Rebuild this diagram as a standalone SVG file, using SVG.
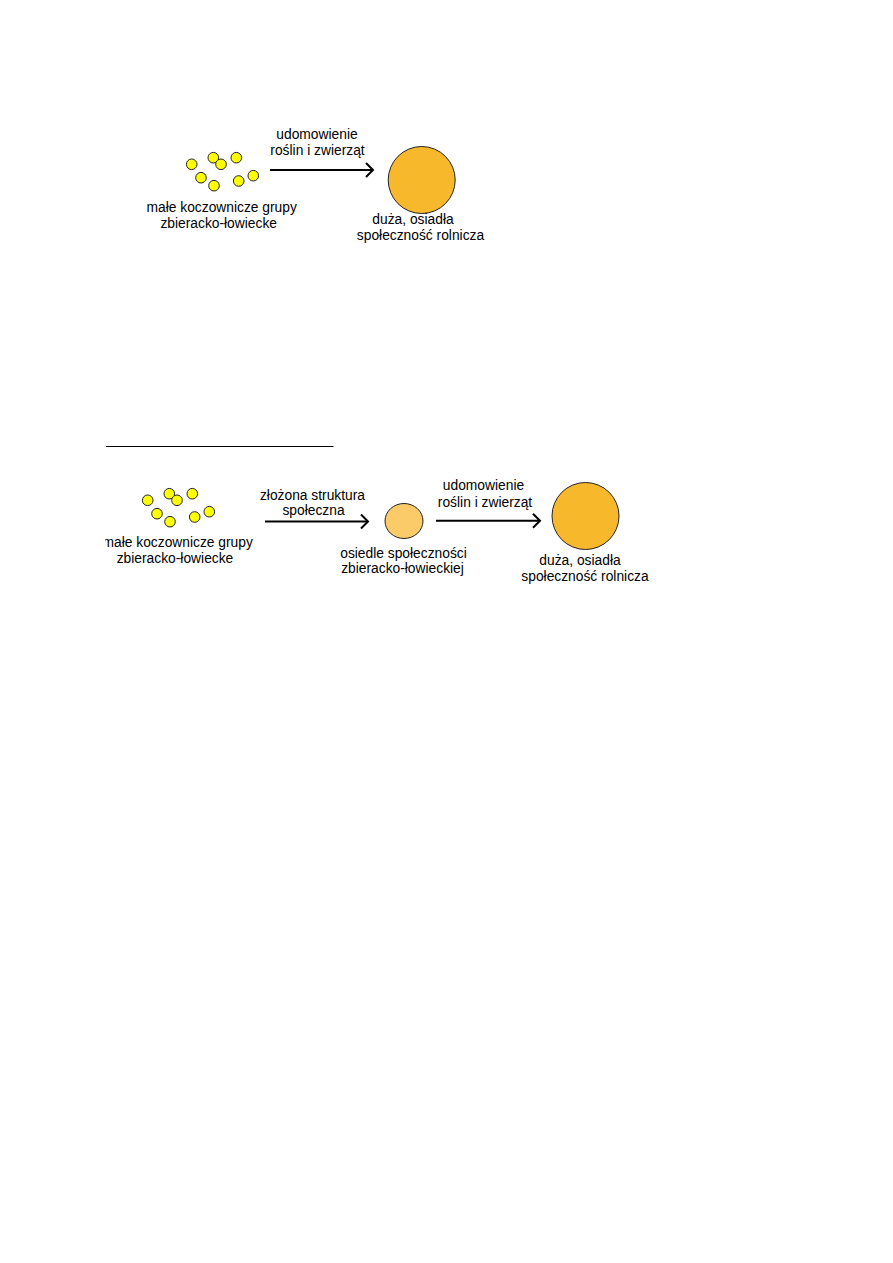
<svg xmlns="http://www.w3.org/2000/svg" width="893" height="1263" viewBox="0 0 893 1263">
<style>
text{font-family:"Liberation Sans",Arial,sans-serif;font-size:13.8px;fill:#000;text-anchor:middle}
.dot{fill:#FFFF00;stroke:#222;stroke-width:1}
.big{fill:#F7B92B;stroke:#222;stroke-width:1}
.mid{fill:#FCCB69;stroke:#222;stroke-width:1}
.arr{fill:none;stroke:#000;stroke-width:2}
</style>
<defs>
<marker id="chev" markerWidth="10" markerHeight="16" refX="8.5" refY="8" orient="auto" markerUnits="userSpaceOnUse">
<path d="M1.5,1 L8.5,8 L1.5,15" fill="none" stroke="#000" stroke-width="2"/>
</marker>
<g id="dots">
<circle class="dot" cx="0" cy="0" r="5.3"/>
<circle class="dot" cx="21.6" cy="-6.6" r="5.3"/>
<circle class="dot" cx="29.3" cy="0" r="5.3"/>
<circle class="dot" cx="44.6" cy="-6.6" r="5.3"/>
<circle class="dot" cx="9.3" cy="13.4" r="5.3"/>
<circle class="dot" cx="22.3" cy="21.4" r="5.3"/>
<circle class="dot" cx="47" cy="16.7" r="5.3"/>
<circle class="dot" cx="61.6" cy="11.4" r="5.3"/>
</g>
<clipPath id="clipL"><rect x="105" y="0" width="800" height="1263"/></clipPath>
</defs>

<g id="connectors">
<line class="arr" x1="270" y1="170" x2="373" y2="170" marker-end="url(#chev)"/>
<line class="arr" x1="265" y1="521.5" x2="368" y2="521.5" marker-end="url(#chev)"/>
<line class="arr" x1="436" y1="520.7" x2="540" y2="520.7" marker-end="url(#chev)"/>
</g>

<g id="top-groups">
<use href="#dots" x="191.7" y="164.3"/>
<text x="221.7" y="212">małe koczownicze grupy</text>
<text x="218.7" y="228">zbieracko-łowiecke</text>
</g>
<g id="top-label">
<text x="317" y="138.5">udomowienie</text>
<text x="317.5" y="155">roślin i zwierząt</text>
</g>
<g id="top-farm">
<circle class="big" cx="421.7" cy="180" r="33.5"/>
<text x="413" y="223.5">duża, osiadła</text>
<text x="420.5" y="239.5">społeczność rolnicza</text>
</g>

<g id="separator">
<line x1="106" y1="446.5" x2="333.5" y2="446.5" stroke="#000" stroke-width="1"/>
</g>

<g id="bottom-groups">
<use href="#dots" x="147.7" y="500.3"/>
<g clip-path="url(#clipL)">
<text x="177.7" y="547">małe koczownicze grupy</text>
</g>
<text x="175" y="562.5">zbieracko-łowiecke</text>
</g>
<g id="bottom-label1">
<text x="312.5" y="499.5">złożona struktura</text>
<text x="313.5" y="515">społeczna</text>
</g>
<g id="bottom-settlement">
<ellipse class="mid" cx="404" cy="521" rx="19" ry="17.5"/>
<text x="403.5" y="557.5">osiedle społeczności</text>
<text x="402.5" y="572.5">zbieracko-łowieckiej</text>
</g>
<g id="bottom-label2">
<text x="483.5" y="490">udomowienie</text>
<text x="485" y="506.5">roślin i zwierząt</text>
</g>
<g id="bottom-farm">
<circle class="big" cx="585.5" cy="516" r="33.5"/>
<text x="580" y="565">duża, osiadła</text>
<text x="585" y="581">społeczność rolnicza</text>
</g>
</svg>
